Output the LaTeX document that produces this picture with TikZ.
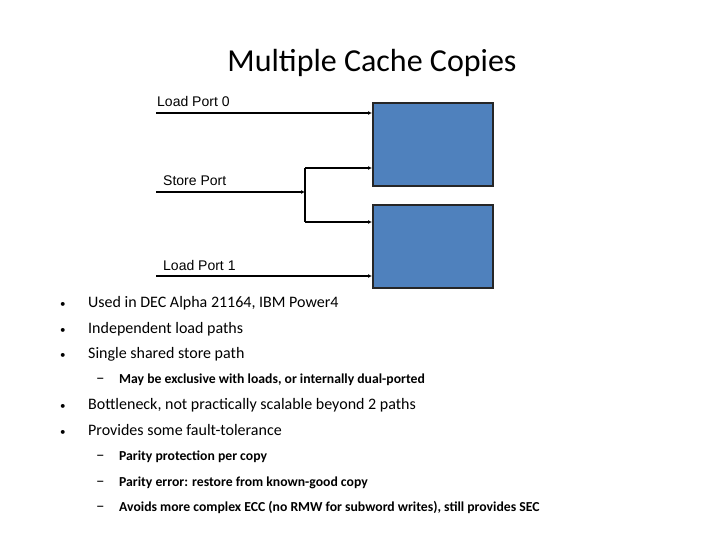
\documentclass[tikz,border=0pt]{standalone}
\usepackage{fontspec}
\setmainfont{Carlito}
\newfontfamily\arialfont{Liberation Sans}
\usetikzlibrary{arrows.meta, positioning, calc}

\begin{document}
\begin{tikzpicture}[
        x=1pt, y=-1pt,
        cache/.style={rectangle, draw=black!85, fill={rgb,255:red,79;green,129;blue,189}, line width=1.6pt, minimum width=120pt, minimum height=83pt, inner sep=0pt},
        portlabel/.style={anchor=base west, inner sep=0pt, font=\arialfont\fontsize{14}{16}\selectfont},
        wire/.style={-{Latex[length=4pt, width=4pt]}, line width=1.2pt, black},
        bulletitem/.style={anchor=base west, inner sep=0pt, font=\fontsize{16}{19}\selectfont},
        subitem/.style={anchor=base west, inner sep=0pt, font=\bfseries\fontsize{13.7}{16}\selectfont}
    ]
        \useasboundingbox (0,0) rectangle (720,540);
        % title
        \node[anchor=base, inner sep=0pt, font=\fontsize{32}{38}\selectfont] (title) at (372,72) {Multiple Cache Copies};

        % the two cache copies
        \node[cache, anchor=north west] (cacheA) at (372,102) {};
        \node[cache, anchor=north west] (cacheB) at (372,204) {};

        % ports
        \node[portlabel] (lp0lbl) at (157,107) {Load Port 0};
        \node[portlabel] (splbl) at (163,186) {Store Port};
        \node[portlabel] (lp1lbl) at (163,270) {Load Port 1};
        \coordinate (lp0) at (156,113);
        \coordinate (sp) at (156,192);
        \coordinate (lp1) at (156,276);
        \coordinate (split) at (305,192);
        \coordinate (splitA) at (305,168);
        \coordinate (splitB) at (305,222);

        \draw[wire] (lp0) -- (lp0 -| cacheA.west);
        \draw[wire] (sp) -- (split);
        \draw[line width=1.2pt] (splitA) -- (splitB);
        \draw[wire] (splitA) -- (splitA -| cacheA.west);
        \draw[wire] (splitB) -- (splitB -| cacheB.west);
        \draw[wire] (lp1) -- (lp1 -| cacheB.west);

        % bullet list
        \foreach \y/\txt [count=\i] in {307/{Used in DEC Alpha 21164, IBM Power4},
                                        333/{Independent load paths},
                                        358/{Single shared store path},
                                        409/{Bottleneck, not practically scalable beyond 2 paths},
                                        435/{Provides some fault-tolerance}} {
            \node[anchor=base west, inner sep=0pt, font=\fontsize{11}{13}\selectfont] (dot\i) at (60,\y) {\textbullet};
            \node[bulletitem] (item\i) at (88,\y) {\txt};
        }
        \foreach \y/\txt [count=\i] in {383/{May be exclusive with loads, or internally dual-ported},
                                        460/{Parity protection per copy},
                                        486/{Parity error: restore from known-good copy},
                                        511/{Avoids more complex ECC (no RMW for subword writes), still provides SEC}} {
            \node[anchor=base west, inner sep=0pt, font=\fontsize{17}{19}\selectfont] (dash\i) at (96,\y) {\textendash};
            \node[subitem] (sub\i) at (119,\y) {\txt};
        }
    \end{tikzpicture}
\end{document}
